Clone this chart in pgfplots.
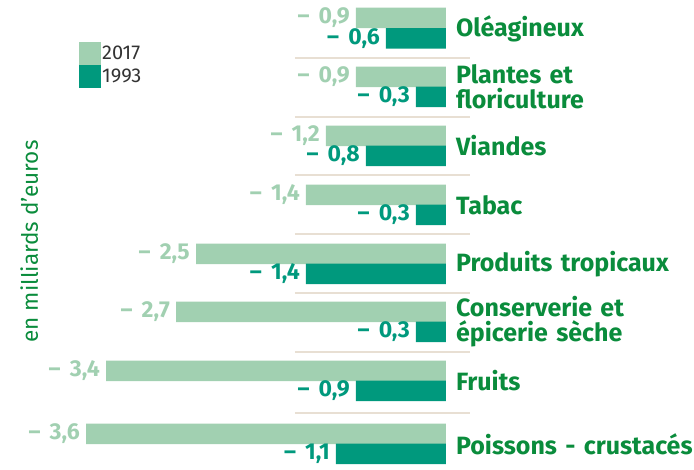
\documentclass[border=0pt]{standalone}
\usepackage{fontspec}
\setmainfont{Fira Sans}
\usepackage{pgfplots}
\pgfplotsset{compat=1.18}
\definecolor{light}{HTML}{A1D0B1}
\definecolor{dark}{HTML}{00997D}
\definecolor{catgreen}{HTML}{0A8C3C}
\definecolor{sepline}{HTML}{E8DFD3}
\definecolor{legtext}{HTML}{333333}
\newcommand{\mv}[1]{–\hspace{0.4em}#1}

\begin{document}
\begin{tikzpicture}
\begin{axis}[
    scale only axis,
    width=456pt, height=470pt,
    xmin=-4.46, xmax=0.1,
    ymin=0, ymax=470, y dir=reverse,
    axis line style={draw=none},
    clip=false,
    xtick=\empty,
    ytick={28.5,87,146,205,264,322,381,444},
    yticklabels={Oléagineux,{Plantes et\\floriculture},Viandes,Tabac,
        Produits tropicaux,{Conserverie et\\épicerie sèche},Fruits,
        Poissons - crustacés},
    yticklabel pos=right,
    major tick length=0pt,
    yticklabel style={anchor=west, align=left, inner sep=0pt, text width=238pt,
        font=\fontsize{25}{25}\selectfont\bfseries, text=catgreen},
    ylabel={en milliards d’euros},
    ylabel style={at={(axis description cs:0.044,0.486)}, anchor=north,
        rotate=0, inner sep=0pt, text=catgreen,
        font=\fontsize{22.5}{24}\selectfont},
    legend style={at={(axis description cs:0.173,0.911)}, anchor=north west,
        draw=none, fill=none, inner sep=0pt, row sep=0pt,
        cells={anchor=west}, text=legtext,
        font=\fontsize{20}{22}\selectfont,
        nodes={inner sep=1pt}},
    legend image code/.code={\fill[#1] (0pt,-11.5pt) rectangle (22pt,11.5pt);},
    every node near coord/.append style={anchor=east, inner sep=0pt,
        xshift=-6pt, font=\fontsize{23}{24}\selectfont\bfseries},
]

% 2017
\addplot[xbar, bar width=20.5pt, bar shift=0pt, fill=light, draw=none,
    nodes near coords, point meta=explicit symbolic,
    every node near coord/.append style={text=light}]
    coordinates {
    (-0.9,18) [\mv{0,9}]
    (-0.9,77) [\mv{0,9}]
    (-1.2,136) [\mv{1,2}]
    (-1.4,195) [\mv{1,4}]
    (-2.5,254) [\mv{2,5}]
    (-2.7,312) [\mv{2,7}]
    (-3.4,371) [\mv{3,4}]
    (-3.6,434) [\mv{3,6}]
    };
\addlegendentry{2017}

% 1993
\addplot[xbar, bar width=20.5pt, bar shift=0pt, fill=dark, draw=none,
    nodes near coords, point meta=explicit symbolic,
    every node near coord/.append style={text=dark}]
    coordinates {
    (-0.6,38.5) [\mv{0,6}]
    (-0.3,97) [\mv{0,3}]
    (-0.8,156) [\mv{0,8}]
    (-0.3,215) [\mv{0,3}]
    (-1.4,274) [\mv{1,4}]
    (-0.3,332) [\mv{0,3}]
    (-0.9,391) [\mv{0,9}]
    (-1.1,454) [\mv{1,1}]
    };
\addlegendentry{1993}

% separators
\addplot[sharp plot, no markers, draw=sepline, line width=2pt,
    unbounded coords=jump, forget plot]
    coordinates {
    (-1.51,58) (0.24,58) (0,nan)
    (-1.51,117) (0.24,117) (0,nan)
    (-1.51,175) (0.24,175) (0,nan)
    (-1.51,234) (0.24,234) (0,nan)
    (-1.51,293) (0.24,293) (0,nan)
    (-1.51,352) (0.24,352) (0,nan)
    (-1.51,413) (0.24,413)
    };
\end{axis}
\end{tikzpicture}
\end{document}
